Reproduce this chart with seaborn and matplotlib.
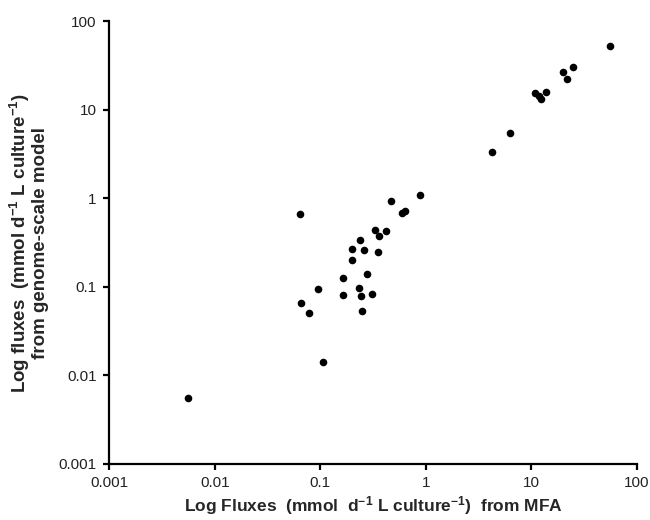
import numpy as np
import pandas as pd
import matplotlib
matplotlib.use("Agg")
import matplotlib.pyplot as plt
import seaborn as sns

# ── data (mmol d-1 L culture-1) ───────────────────────────────
mfa_flux = [0.064, 0.47, 0.88, 0.60, 0.63, 0.33, 0.357, 0.42, 0.24, 0.20,
            0.26, 0.35, 0.20, 0.275, 0.164, 0.096, 0.233, 0.164, 0.243, 0.307,
            0.066, 0.078, 0.25, 0.107, 0.0056,
            4.23, 6.2, 10.7, 11.8, 12.3, 13.6, 19.8, 21.9, 24.7, 55.2]
model_flux = [0.66, 0.94, 1.10, 0.68, 0.72, 0.44, 0.38, 0.43, 0.34, 0.27,
              0.26, 0.25, 0.20, 0.139, 0.125, 0.095, 0.096, 0.081, 0.079, 0.083,
              0.066, 0.051, 0.054, 0.014, 0.0056,
              3.35, 5.5, 15.4, 14.2, 13.4, 15.7, 27.1, 22.4, 30.6, 52.5]

tick_vals = [0.001, 0.01, 0.1, 1, 10, 100]
tick_labels = ["0.001", "0.01", "0.1", "1", "10", "100"]

df = pd.DataFrame({"mfa": mfa_flux, "model": model_flux})

# ── style ─────────────────────────────────────────────────────
sns.set_style("white")
plt.rcParams["font.family"] = ["Liberation Sans", "DejaVu Sans"]
plt.rcParams["mathtext.fontset"] = "custom"
plt.rcParams["mathtext.rm"] = "Liberation Sans:bold"
plt.rcParams["mathtext.bf"] = "Liberation Sans:bold"
plt.rcParams["mathtext.default"] = "bf"

fig = plt.figure(figsize=(6.5, 5.2), dpi=100)
ax = fig.add_axes([0.168, 0.108, 0.812, 0.851])

sns.scatterplot(data=df, x="mfa", y="model", ax=ax, color="black",
                s=30, edgecolor="black", linewidth=0, legend=False)

ax.set_xscale("log")
ax.set_yscale("log")
ax.set_xlim(0.001, 100)
ax.set_ylim(0.001, 100)
ax.set_xticks(tick_vals)
ax.set_xticklabels(tick_labels)
ax.set_yticks(tick_vals)
ax.set_yticklabels(tick_labels)
ax.minorticks_off()

for side in ["top", "right"]:
    ax.spines[side].set_visible(False)
for side in ["left", "bottom"]:
    ax.spines[side].set_linewidth(1.6)
    ax.spines[side].set_color("black")

ax.tick_params(axis="both", which="major", direction="out", length=4,
               width=1.6, color="black", labelsize=11, labelcolor="#222222",
               pad=5, bottom=True, left=True)

ax.set_xlabel(r"Log Fluxes  (mmol  d$^{-1}$ L culture$^{-1}$)  from MFA",
              fontsize=12.5, fontweight="bold", labelpad=3)
ax.set_ylabel("Log fluxes  (mmol d$^{-1}$ L culture$^{-1}$)\nfrom genome-scale model",
              fontsize=13.5, fontweight="bold", labelpad=7, linespacing=1.0)

fig.savefig("out.png", dpi=100)
